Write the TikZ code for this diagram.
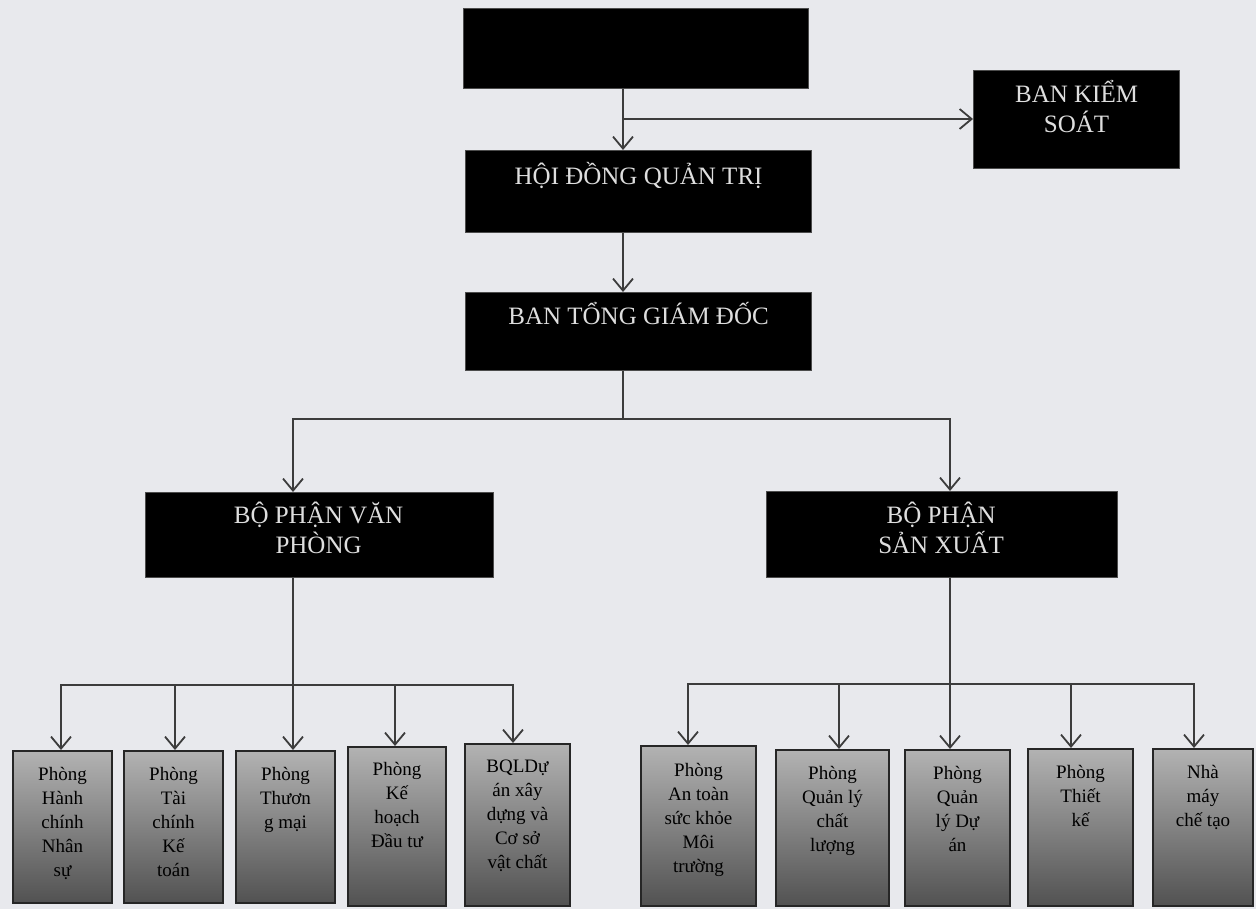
\documentclass[tikz,border=0pt]{standalone}
\usepackage{fontspec}
\setmainfont{Liberation Serif}
\usetikzlibrary{arrows.meta,calc}
\definecolor{bgc}{RGB}{232,233,237}
\definecolor{linec}{RGB}{60,60,60}
\definecolor{blktxt}{RGB}{222,222,222}
\tikzset{
  blk/.style={draw=black!70, line width=1.2pt, fill=black, rectangle, inner sep=0pt, anchor=north west},
  gbox/.style={draw=black!85, line width=2pt, rectangle, inner sep=0pt, anchor=north west, top color=black!30, bottom color=black!68},
  blktext/.style={text=blktxt, font=\fontsize{25pt}{30pt}\selectfont, align=center, inner sep=0pt, anchor=base},
  gtext/.style={text=black, font=\fontsize{19pt}{24pt}\selectfont, align=center, inner sep=0pt, anchor=base},
  conn/.style={draw=linec, line width=2pt},
  arr/.style={conn, -{Straight Barb[length=12pt,width=20pt,line width=1.8pt]}},
}
\begin{document}
\begin{tikzpicture}[x=1pt,y=-1pt]
\fill[bgc] (0,0) rectangle (1256,909);
\useasboundingbox (0,0) rectangle (1256,909);

% black boxes
\node[blk, minimum width=345pt, minimum height=80pt] (top) at (463,8) {};
\node[blk, minimum width=346pt, minimum height=82pt] (hdqt) at (465,150) {};
\node[blk, minimum width=346pt, minimum height=78pt] (btgd) at (465,292) {};
\node[blk, minimum width=206pt, minimum height=98pt] (bks) at (973,70) {};
\node[blk, minimum width=348pt, minimum height=85pt] (bpvp) at (145,492) {};
\node[blk, minimum width=351pt, minimum height=86pt] (bpsx) at (766,491) {};

% (anchor=base of a multi-line node is the baseline of its last line)
\node[blktext] (thdqt) at ($(hdqt.north)+(0,35)$) {HỘI ĐỒNG QUẢN TRỊ};
\node[blktext] (tbtgd) at ($(btgd.north)+(0,33)$) {BAN TỔNG GIÁM ĐỐC};
\node[blktext] (tbks) at ($(bks.north)+(0,63)$) {BAN KIỂM\\SOÁT};
\node[blktext] (tbpvp) at ($(bpvp.north)+(-1,61)$) {BỘ PHẬN VĂN\\PHÒNG};
\node[blktext] (tbpsx) at ($(bpsx.north)+(-1,62)$) {BỘ PHẬN\\SẢN XUẤT};

% gray boxes
\node[gbox, minimum width=99pt, minimum height=152pt] (b1) at (12,750) {};
\node[gbox, minimum width=99pt, minimum height=152pt] (b2) at (123,750) {};
\node[gbox, minimum width=99pt, minimum height=152pt] (b3) at (235,750) {};
\node[gbox, minimum width=98pt, minimum height=159pt] (b4) at (347,746) {};
\node[gbox, minimum width=105pt, minimum height=162pt] (b5) at (464,743) {};
\node[gbox, minimum width=115pt, minimum height=160pt] (b6) at (640,745) {};
\node[gbox, minimum width=113pt, minimum height=156pt] (b7) at (775,749) {};
\node[gbox, minimum width=105pt, minimum height=156pt] (b8) at (904,749) {};
\node[gbox, minimum width=105pt, minimum height=157pt] (b9) at (1027,748) {};
\node[gbox, minimum width=100pt, minimum height=157pt] (b10) at (1152,748) {};

\node[gtext] (t1) at ($(b1.north)+(0,126)$) {Phòng\\Hành\\chính\\Nhân\\sự};
\node[gtext] (t2) at ($(b2.north)+(0,126)$) {Phòng\\Tài\\chính\\Kế\\toán};
\node[gtext] (t3) at ($(b3.north)+(0,78)$) {Phòng\\Thươn\\g mại};
\node[gtext] (t4) at ($(b4.north)+(0,101)$) {Phòng\\Kế\\hoạch\\Đầu tư};
\node[gtext] (t5) at ($(b5.north)+(0,125)$) {BQLDự\\án xây\\dựng và\\Cơ sở\\vật chất};
\node[gtext] (t6) at ($(b6.north)+(0,127)$) {Phòng\\An toàn\\sức khỏe\\Môi\\trường};
\node[gtext] (t7) at ($(b7.north)+(0,102)$) {Phòng\\Quản lý\\chất\\lượng};
\node[gtext] (t8) at ($(b8.north)+(0,102)$) {Phòng\\Quản\\lý Dự\\án};
\node[gtext] (t9) at ($(b9.north)+(0,78)$) {Phòng\\Thiết\\kế};
\node[gtext] (t10) at ($(b10.north)+(0,78)$) {Nhà\\máy\\chế tạo};

% junctions
\coordinate (c1) at (623,119);
\coordinate (c2) at (623,419);
\coordinate (c2l) at (293,419);
\coordinate (c2r) at (950,419);
\coordinate (c3) at (293,685);
\coordinate (c4) at (950,684);

% connectors top
\draw[conn] (top.south -| c1) -- (c1);
\draw[arr] (c1) -- (c1 |- hdqt.north);
\draw[arr] (c1) -- (c1 -| bks.west);
\draw[arr] (hdqt.south -| c1) -- (btgd.north -| c1);
\draw[conn] (btgd.south -| c2) -- (c2);
\draw[arr] (c2) -| (bpvp.north -| c2l);
\draw[arr] (c2) -| (bpsx.north -| c2r);

% left group
\draw[conn] (bpvp.south -| c3) -- (c3);
\draw[arr] (c3) -| ([xshift=-1.5pt]b1.north);
\draw[arr] (c3) -| ([xshift=1.5pt]b2.north);
\draw[arr] (c3) -- (b3.north -| c3);
\draw[arr] (c3) -| ([xshift=-2pt]b4.north);
\draw[arr] (c3) -| ([xshift=-4.5pt]b5.north);

% right group
\draw[conn] (bpsx.south -| c4) -- (c4);
\draw[arr] (c4) -| ([xshift=-10.5pt]b6.north);
\draw[arr] (c4) -| ([xshift=6.5pt]b7.north);
\draw[arr] (c4) -- (b8.north -| c4);
\draw[arr] (c4) -| ([xshift=-9.5pt]b9.north);
\draw[arr] (c4) -| ([xshift=-9pt]b10.north);
\end{tikzpicture}
\end{document}
